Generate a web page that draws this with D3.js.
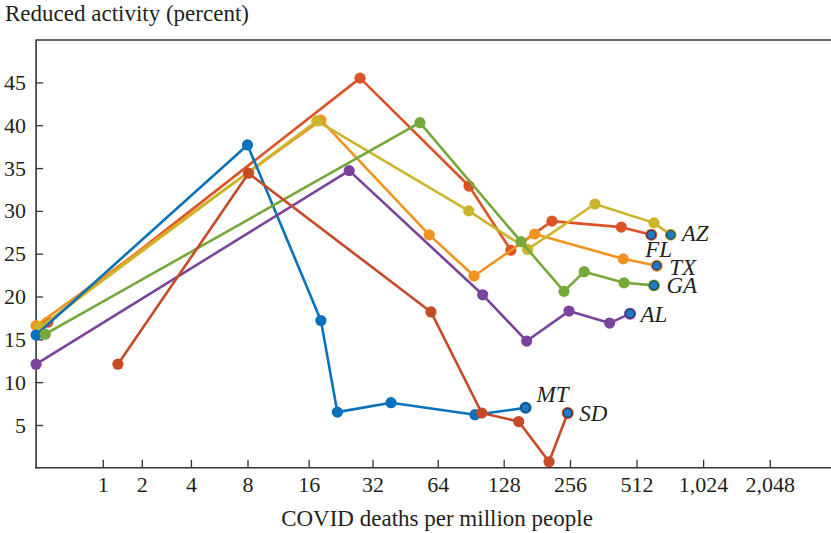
<!DOCTYPE html>
<html>
<head>
<meta charset="utf-8">
<script src="https://cdn.jsdelivr.net/npm/d3@7/dist/d3.min.js"></script>
<style>
  html, body { margin: 0; padding: 0; background: #fff; }
  svg { display: block; }
  text { font-family: "Liberation Serif", "Times New Roman", serif; fill: #231f20; }
</style>
</head>
<body>
<svg id="chart" width="831" height="533"></svg>
<script>
// State codes, drawn as end labels
const states = ["FL", "TX", "AZ", "MT", "GA", "AL", "SD"];

// COVID deaths per million people (x) and reduced activity in percent (y)
const flDeaths   = [0.13, 28, 89, 138, 212, 437, 597];
const flActivity = [17.0, 45.5, 32.9, 25.4, 28.8, 28.1, 27.2];

const txDeaths   = [0, 18.3, 58.5, 93.8, 177, 446, 632];
const txActivity = [16.6, 40.6, 27.2, 22.4, 27.3, 24.4, 23.6];

const azDeaths   = [0.04, 17.5, 88.7, 164.6, 332, 614, 731];
const azActivity = [16.4, 40.5, 30.0, 25.5, 30.8, 28.6, 27.2];

const mtDeaths   = [0, 8, 18.3, 21.9, 39, 94.7, 161];
const mtActivity = [15.5, 37.7, 17.2, 6.5, 7.6, 6.2, 7.0];

const gaDeaths   = [0.1, 53, 153.5, 240.5, 297, 449.5, 614];
const gaActivity = [15.6, 40.3, 26.4, 20.6, 22.9, 21.6, 21.3];

const alDeaths   = [0, 24.9, 102.7, 162.8, 253.4, 387, 478.6];
const alActivity = [12.1, 34.7, 20.2, 14.8, 18.3, 16.9, 18.0];

const sdDeaths   = [1.34, 8.1, 59.6, 101.7, 149.8, 205.7, 250];
const sdActivity = [12.1, 34.4, 18.2, 6.4, 5.4, 0.7, 6.4];

// Axis ticks
const xTicks = [1, 2, 4, 8, 16, 32, 64, 128, 256, 512, 1024, 2048];
const yTicks = [5, 10, 15, 20, 25, 30, 35, 40, 45];

// Series styling and label placement relative to each final point
const colors = {
  FL: "#dc5426", TX: "#f29320", AZ: "#cdb52b", MT: "#0a72ba",
  GA: "#77a83a", AL: "#7a449d", SD: "#c64a26"
};
const labelOffset = {
  FL: [-6, 22], TX: [12.5, 9], AZ: [11, 6], MT: [11, -5.5],
  GA: [12.5, 7.5], AL: [10.5, 8.5], SD: [11.5, 8.5]
};

const seriesData = {
  FL: [flDeaths, flActivity], TX: [txDeaths, txActivity], AZ: [azDeaths, azActivity],
  MT: [mtDeaths, mtActivity], GA: [gaDeaths, gaActivity], AL: [alDeaths, alActivity],
  SD: [sdDeaths, sdActivity]
};
// Drawing order, bottom to top
const drawOrder = ["FL", "TX", "AZ", "MT", "GA", "AL", "SD"];

const svg = d3.select("#chart");
const plotLeft = 36.1, plotBottom = 467.8, plotTop = 39.6;

// Deaths on a log2(x + 1) style axis, activity linear
const x = d3.scaleSymlog().constant(1).domain([0, 4095]).range([plotLeft, plotLeft + 66.69 * 12]);
const y = d3.scaleLinear().domain([0, 50]).range([plotBottom, plotTop]);

const axisColor = "#333";

// Frame: top border and left/bottom axes
svg.append("line")
  .attr("x1", plotLeft).attr("x2", 831).attr("y1", plotTop + 0.4).attr("y2", plotTop + 0.4)
  .attr("stroke", axisColor).attr("stroke-width", 1.6);

const xAxis = d3.axisBottom(x).tickValues(xTicks).tickSize(-8).tickPadding(9)
  .tickFormat(d3.format(","));
const gx = svg.append("g").attr("transform", `translate(0,${plotBottom})`).call(xAxis);
gx.select(".domain").remove();
gx.append("line").attr("x1", plotLeft - 0.8).attr("x2", 831).attr("y1", 0).attr("y2", 0)
  .attr("stroke", axisColor).attr("stroke-width", 1.6);
gx.selectAll(".tick line").attr("stroke", axisColor).attr("stroke-width", 1.3);
gx.selectAll(".tick text").attr("font-size", 22).attr("fill", "#231f20")
  .attr("font-family", "Liberation Serif, serif");

const yAxis = d3.axisLeft(y).tickValues(yTicks).tickSize(-7).tickPadding(10);
const gy = svg.append("g").attr("transform", `translate(${plotLeft},0)`).call(yAxis);
gy.select(".domain").remove();
gy.append("line").attr("x1", 0).attr("x2", 0).attr("y1", plotTop).attr("y2", plotBottom + 0.8)
  .attr("stroke", axisColor).attr("stroke-width", 1.6);
gy.selectAll(".tick line").attr("stroke", axisColor).attr("stroke-width", 1.3);
gy.selectAll(".tick text").attr("font-size", 22).attr("fill", "#231f20")
  .attr("font-family", "Liberation Serif, serif");

// Axis titles
svg.append("text").attr("x", 5).attr("y", 21).attr("font-size", 23)
  .text("Reduced activity (percent)");
svg.append("text").attr("x", 437).attr("y", 526).attr("font-size", 23)
  .attr("text-anchor", "middle").text("COVID deaths per million people");

// Series lines and markers
const line = d3.line().x(d => x(d[0])).y(d => y(d[1]));
drawOrder.forEach(s => {
  const [xs, ys] = seriesData[s];
  const pts = xs.map((v, i) => [v, ys[i]]);
  const g = svg.append("g");
  g.append("path").datum(pts).attr("d", line)
    .attr("fill", "none").attr("stroke", colors[s]).attr("stroke-width", 2.6)
    .attr("stroke-linejoin", "round");
  g.selectAll("circle.pt").data(pts.slice(0, -1)).join("circle").attr("class", "pt")
    .attr("cx", d => x(d[0])).attr("cy", d => y(d[1])).attr("r", 5.6)
    .attr("fill", colors[s]);
  const last = pts[pts.length - 1];
  g.append("circle").attr("cx", x(last[0])).attr("cy", y(last[1])).attr("r", 6)
    .attr("fill", colors[s]);
  g.append("circle").attr("cx", x(last[0])).attr("cy", y(last[1])).attr("r", 4.4)
    .attr("fill", "#1f7bc4").attr("stroke", "#1b2f55").attr("stroke-width", 1);
});

// End labels
drawOrder.forEach(s => {
  const [xs, ys] = seriesData[s];
  const i = xs.length - 1;
  const [dx, dy] = labelOffset[s];
  svg.append("text").attr("x", x(xs[i]) + dx).attr("y", y(ys[i]) + dy)
    .attr("font-size", 23).attr("font-style", "italic").text(s);
});
</script>
</body>
</html>
